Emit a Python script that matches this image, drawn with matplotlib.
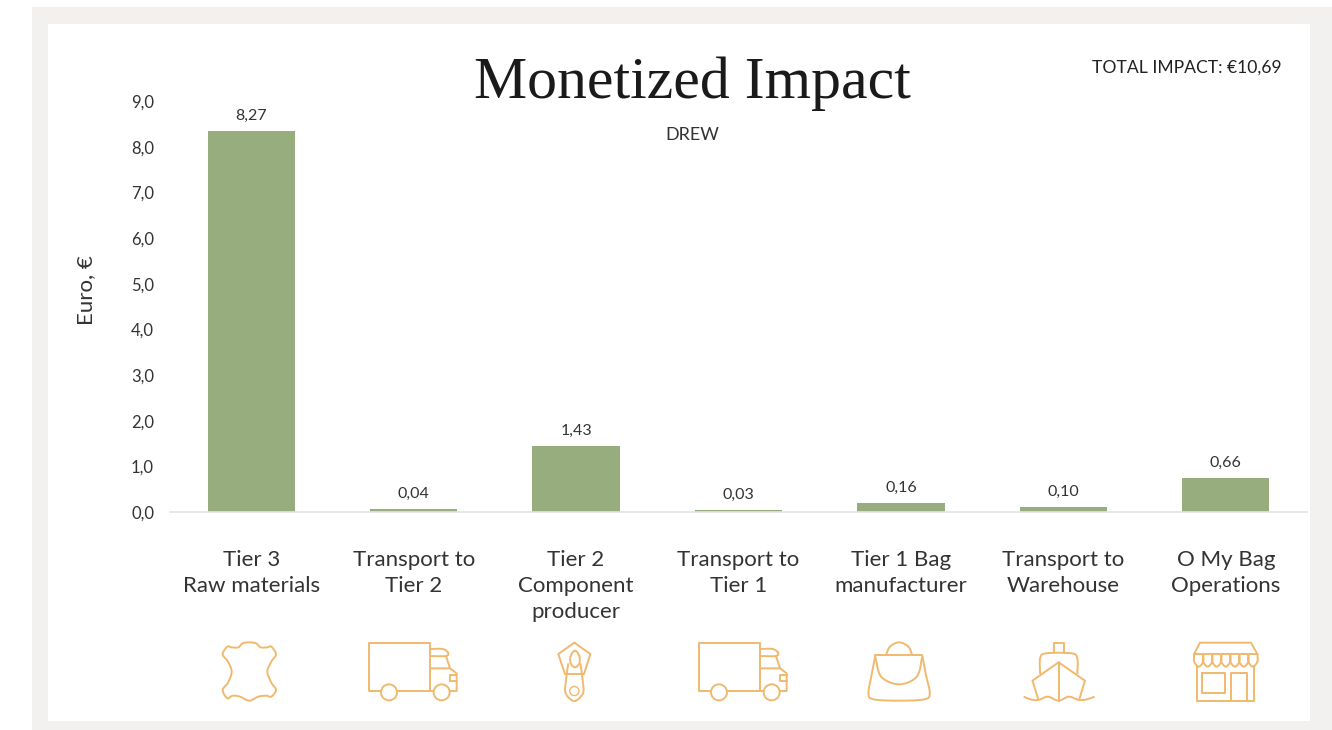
"""Monetized impact per supply chain step, with outline icons under the bars."""

import matplotlib
matplotlib.use("Agg")
import matplotlib.pyplot as plt
from matplotlib.patches import Circle, PathPatch, Rectangle
from matplotlib.path import Path

W, H = 1332, 730

categories = [
    "Tier 3\nRaw materials",
    "Transport to\nTier 2",
    "Tier 2\nComponent\nproducer",
    "Transport to\nTier 1",
    "Tier 1 Bag\nmanufacturer",
    "Transport to\nWarehouse",
    "O My Bag\nOperations",
]
# bar heights as drawn in the picture, they sit a little above the printed labels
bar_heights = [8.34, 0.06, 1.45, 0.04, 0.19, 0.11, 0.74]
printed_values = ["8,27", "0,04", "1,43", "0,03", "0,16", "0,10", "0,66"]
y_ticks = [0, 1, 2, 3, 4, 5, 6, 7, 8, 9]

INK = "#333333"
GREEN = "#97ad7e"
ORANGE = "#f0b96e"
FRAME = "#f2f1ef"
LW = 1.4

plt.rcParams["font.family"] = ["Lato", "DejaVu Sans"]

fig = plt.figure(figsize=(W / 100, H / 100), dpi=100)
fig.patch.set_facecolor("white")

# overlay in pixel coordinates: frame, icons, free text
bg = fig.add_axes([0, 0, 1, 1], zorder=0)
bg.set_xlim(0, W)
bg.set_ylim(H, 0)
bg.axis("off")
bg.add_patch(Rectangle((32, 7), W - 32, H - 7, facecolor=FRAME, edgecolor="none"))
bg.add_patch(Rectangle((48, 24), 1262, 697, facecolor="white", edgecolor="none"))

# chart axes, x -0.5..6.5 spans px 170..1307, y 0..9 spans px 512..101
ax = fig.add_axes([170 / W, 1 - 512 / H, 1137 / W, 411 / H], zorder=1)
ax.patch.set_alpha(0)
bars = ax.bar(range(len(categories)), bar_heights, width=0.537, color=GREEN)
ax.set_xlim(-0.5, 6.5)
ax.set_ylim(0, 9)
for s in ["top", "right", "left"]:
    ax.spines[s].set_visible(False)
ax.spines["bottom"].set_color("#e4e4e4")
ax.spines["bottom"].set_linewidth(1.2)
ax.set_yticks(y_ticks)
ax.set_yticklabels([f"{v:.1f}".replace(".", ",") for v in y_ticks], fontsize=12, color=INK)
ax.set_xticks(range(len(categories)))
ax.set_xticklabels(categories, fontsize=16, color=INK, linespacing=1.4)
ax.tick_params(axis="y", length=0, pad=11.5)
ax.tick_params(axis="x", length=0, pad=27)
for b, txt in zip(bars, printed_values):
    ax.annotate(txt, (b.get_x() + b.get_width() / 2, b.get_height()), xytext=(0, 6),
                textcoords="offset points", ha="center", va="bottom", fontsize=11.5, color=INK)

bg.text(692, 84, "Monetized Impact", ha="center", va="center", fontsize=43,
        family="Liberation Serif", color="#1a1a1a")
bg.text(692, 135, "DREW", ha="center", va="center", fontsize=13, color=INK)
bg.text(1282, 68, "TOTAL IMPACT: €10,69", ha="right", va="center", fontsize=12.6, color="#222222")
bg.text(86, 290, "Euro, €", rotation=90, ha="center", va="center", fontsize=16, color=INK)


def stroke(points, closed=False):
    bg.add_patch(PathPatch(Path(points + [points[0]] if closed else points), fill=False,
                           edgecolor=ORANGE, lw=LW, joinstyle="round", capstyle="round"))


def ring(x, y, r, lw=LW):
    bg.add_patch(Circle((x, y), r, facecolor="white", edgecolor=ORANGE, lw=lw, zorder=3))


def smooth(points, closed=False):
    """Catmull-Rom curve through the given points, for the organic outlines."""
    n = len(points)
    verts, codes = [points[0]], [Path.MOVETO]
    for i in range(n if closed else n - 1):
        if closed:
            p0, p1, p2, p3 = [points[(i + k) % n] for k in (-1, 0, 1, 2)]
        else:
            p0, p1, p2, p3 = points[max(i - 1, 0)], points[i], points[i + 1], points[min(i + 2, n - 1)]
        verts += [(p1[0] + (p2[0] - p0[0]) / 6, p1[1] + (p2[1] - p0[1]) / 6),
                  (p2[0] - (p3[0] - p1[0]) / 6, p2[1] - (p3[1] - p1[1]) / 6), p2]
        codes += [Path.CURVE4] * 3
    bg.add_patch(PathPatch(Path(verts, codes), fill=False, edgecolor=ORANGE, lw=LW))


def leather():
    pts = [(178, 37), (198, 40), (212, 52), (232, 52), (244, 50), (258, 73), (244, 95), (232, 125),
           (244, 158), (258, 180), (244, 200), (228, 197), (205, 200), (178, 212), (150, 200),
           (128, 197), (112, 205), (98, 180), (114, 158), (125, 125), (114, 95), (98, 73),
           (112, 50), (125, 52), (145, 52), (158, 40)]
    smooth([(190 + x / 3, 630 + y / 3) for x, y in pts], closed=True)


def truck(dx):
    z = lambda pts: [(dx + 190 + x / 3, 630 + y / 3) for x, y in pts]
    stroke(z([(575, 183), (538, 183), (538, 38), (720, 38), (720, 183), (732, 183)]))
    stroke(z([(620, 183), (732, 183)]))
    smooth(z([(720, 57), (758, 57), (774, 68), (768, 78), (720, 78)]))
    stroke(z([(768, 78), (780, 115), (720, 115)]))
    stroke(z([(780, 115), (800, 130), (800, 183), (778, 183)]))
    stroke(z([(800, 135), (780, 135), (780, 152), (800, 152)]))
    ring(dx + 190 + 597 / 3, 630 + 187 / 3, 8)
    ring(dx + 190 + 755 / 3, 630 + 187 / 3, 8)


def zipper():
    z = lambda pts: [(190 + x / 3, 630 + y / 3) for x, y in pts]
    stroke(z([(1153, 38), (1201, 72), (1182, 132), (1125, 132), (1105, 72)]), closed=True)
    smooth(z([(1135, 100), (1128, 150), (1127, 190), (1153, 213), (1179, 190), (1178, 150), (1171, 100)]))
    smooth(z([(1142, 78), (1155, 62), (1168, 78), (1168, 100), (1155, 112), (1142, 100)]), closed=True)
    ring(190 + 1153 / 3, 630 + 183 / 3, 4.6, lw=1.0)


def bag():
    z = lambda pts: [(680 + x / 2.61, 630 + y / 3) for x, y in pts]
    smooth(z([(538, 75), (548, 50), (572, 37), (596, 50), (606, 75)]))
    stroke(z([(510, 75), (632, 75)]))
    smooth(z([(510, 75), (500, 135), (492, 190), (505, 208), (572, 212), (638, 208), (652, 190), (642, 135), (632, 75)]))
    smooth(z([(510, 80), (525, 140), (572, 163), (618, 140), (632, 80)]))


def ship():
    z = lambda pts: [(680 + x / 2.61, 630 + y / 3) for x, y in pts]
    stroke(z([(977, 70), (977, 38), (1002, 38), (1002, 70)]))
    smooth(z([(940, 132), (940, 85), (955, 70), (1022, 70), (1037, 85), (1037, 132)]))
    stroke(z([(935, 208), (920, 152), (988, 97), (1057, 152), (1042, 208)]))
    stroke(z([(988, 97), (988, 212)]))
    smooth(z([(897, 200), (915, 208), (935, 210), (960, 200), (988, 212), (1015, 200), (1042, 210), (1062, 208), (1082, 200)]))


def store():
    z = lambda pts: [(680 + x / 2.61, 630 + y / 3) for x, y in pts]
    stroke(z([(1342, 72), (1357, 38), (1490, 38), (1507, 72)]), closed=True)
    step = (1507 - 1342) / 7
    for i in range(7):
        x0 = 1342 + i * step
        smooth(z([(x0, 72), (x0, 95), (x0 + step / 2, 110), (x0 + step, 95), (x0 + step, 72)]))
    stroke(z([(1350, 108), (1350, 212), (1498, 212), (1498, 108)]))
    stroke(z([(1363, 130), (1422, 130), (1422, 190), (1363, 190)]), closed=True)
    stroke(z([(1438, 212), (1438, 130), (1480, 130), (1480, 212)]))


leather()
truck(0)
zipper()
truck(330)
bag()
ship()
store()

fig.savefig("out.png", dpi=100, facecolor="white")
